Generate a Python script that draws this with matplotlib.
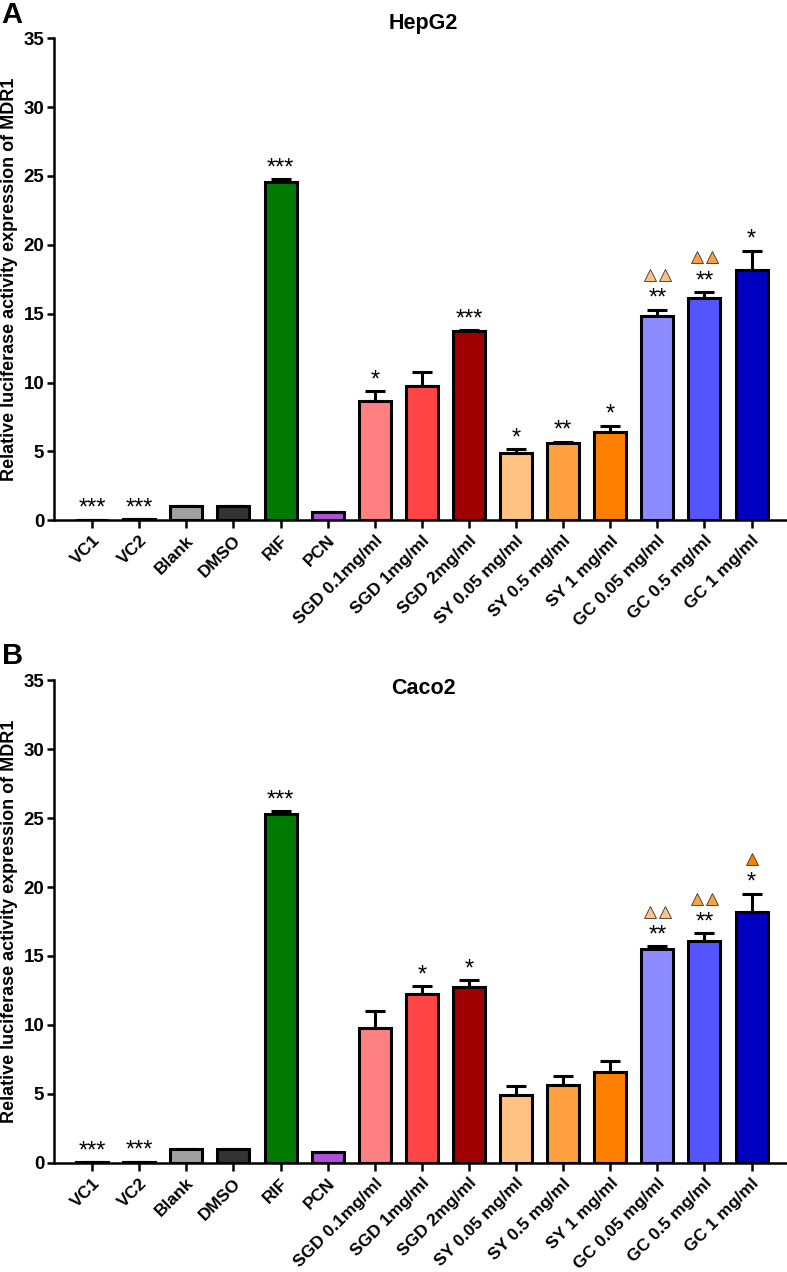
import matplotlib
matplotlib.use("Agg")
import matplotlib.pyplot as plt
import numpy as np
from matplotlib.transforms import offset_copy

plt.rcParams['font.family'] = ['Liberation Sans', 'DejaVu Sans']

categories = ["VC1", "VC2", "Blank", "DMSO", "RIF", "PCN",
              "SGD 0.1mg/ml", "SGD 1mg/ml", "SGD 2mg/ml",
              "SY 0.05 mg/ml", "SY 0.5 mg/ml", "SY 1 mg/ml",
              "GC 0.05 mg/ml", "GC 0.5 mg/ml", "GC 1 mg/ml"]

bar_colors = ["#202020", "#202020", "#A0A0A0", "#333333", "#007A00", "#B050D8",
              "#FF8080", "#FF4444", "#A00000",
              "#FFC282", "#FFA040", "#FF8000",
              "#8C8CFF", "#5555FF", "#0000C0"]

hep_mean = [0.02, 0.08, 1.0, 1.0, 24.55, 0.6, 8.65, 9.73, 13.73, 4.89, 5.59, 6.41, 14.81, 16.17, 18.2]
hep_err  = [0.0, 0.0, 0.0, 0.0, 0.2, 0.0, 0.7, 1.0, 0.05, 0.27, 0.1, 0.44, 0.48, 0.39, 1.35]
hep_stars = ["***", "***", "", "", "***", "", "*", "", "***", "*", "**", "*", "**", "**", "*"]
hep_tri   = [0, 0, 0, 0, 0, 0, 0, 0, 0, 0, 0, 0, 2, 2, 0]

caco_mean = [0.05, 0.08, 1.0, 1.0, 25.3, 0.8, 9.8, 12.25, 12.73, 4.93, 5.63, 6.57, 15.5, 16.1, 18.2]
caco_err  = [0.0, 0.0, 0.0, 0.0, 0.2, 0.0, 1.25, 0.55, 0.5, 0.65, 0.65, 0.85, 0.2, 0.55, 1.3]
caco_stars = ["***", "***", "", "", "***", "", "", "*", "*", "", "", "", "**", "**", "*"]
caco_tri   = [0, 0, 0, 0, 0, 0, 0, 0, 0, 0, 0, 0, 2, 2, 1]

tri_colors = ["", "", "", "", "", "", "", "", "", "", "", "",
              "#FFC282", "#FFA040", "#FF8000"]

yticks = [0, 5, 10, 15, 20, 25, 30, 35]
ylabel = "Relative luciferase activity expression of MDR1"

fig = plt.figure(figsize=(7.87, 12.72), dpi=100)

def panel(rect, means, errs, stars, tris, title, letter, letter_y, title_y):
    ax = fig.add_axes(rect)
    x = np.arange(len(categories))
    ax.bar(x, means, width=0.68, color=bar_colors, edgecolor="black",
           linewidth=2.2, zorder=3)
    lower = np.zeros(len(errs))
    ax.errorbar(x, means, yerr=[lower, errs], fmt="none", ecolor="black",
                elinewidth=2.2, capsize=7, capthick=2.2, zorder=2)
    ax.set_xlim(-0.81, 14.73)
    ax.set_ylim(0, 35)
    ax.set_yticks(yticks)
    ax.set_xticks(x)
    ax.set_xticklabels(categories, rotation=45, ha="right",
                       rotation_mode="anchor", fontsize=12.5, fontweight="bold")
    for lab in ax.get_yticklabels():
        lab.set_fontweight("bold")
        lab.set_fontsize(13.5)
    ax.tick_params(axis="y", direction="out", length=5, width=1.8, pad=2)
    ax.tick_params(axis="x", direction="out", length=6, width=1.8, pad=3)
    for s in ["top", "right"]:
        ax.spines[s].set_visible(False)
    for s in ["left", "bottom"]:
        ax.spines[s].set_linewidth(1.8)
    ax.set_ylabel(ylabel, fontsize=13, fontweight="bold", labelpad=4)
    for i in range(len(categories)):
        top = means[i] + errs[i]
        if stars[i]:
            ax.annotate(stars[i], (x[i], top), xytext=(0, 0), textcoords="offset points",
                        ha="center", va="bottom", fontsize=17, zorder=5)
        if tris[i]:
            n = tris[i]
            offs = [-5.5, 5.5] if n == 2 else [0.0]
            for dx in offs:
                tr = offset_copy(ax.transData, fig=fig, x=dx, y=25, units="points")
                ax.plot([x[i]], [top], marker="^", markersize=9,
                        markerfacecolor=tri_colors[i], markeredgecolor="#333333",
                        markeredgewidth=0.6, transform=tr, clip_on=False, zorder=5)
    fig.text(0.538, title_y, title, ha="center", va="center", fontsize=15.5, fontweight="bold")
    fig.text(0.002, letter_y, letter, ha="left", va="center", fontsize=21, fontweight="bold")
    return ax

panel([0.0686, 0.591, 0.930, 0.379], hep_mean, hep_err, hep_stars, hep_tri,
      "HepG2", "A", 1 - 15 / 1272, 1 - 24 / 1272)
panel([0.0686, 0.0857, 0.930, 0.3797], caco_mean, caco_err, caco_stars, caco_tri,
      "Caco2", "B", 1 - 656 / 1272, 1 - 688 / 1272)

fig.savefig("out.png", dpi=100)
